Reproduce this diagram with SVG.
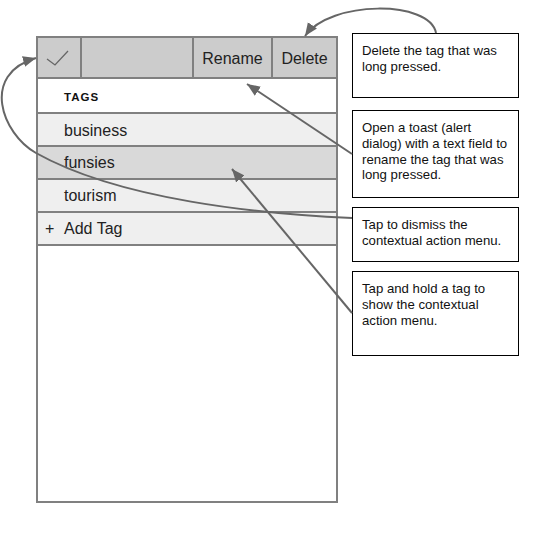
<svg xmlns="http://www.w3.org/2000/svg" width="557" height="540" viewBox="0 0 557 540">
<defs>
<marker id="arr" markerUnits="userSpaceOnUse" markerWidth="14" markerHeight="12" viewBox="0 0 14 12" refX="13" refY="6" orient="auto">
<path d="M0,0.5 L13,6 L0,11.5 Z" fill="#666"/>
</marker>
<style>
.frame{stroke:#808080;stroke-width:2}
.row{font-family:"Liberation Sans",Arial,sans-serif;font-size:16px;fill:#222}
.note{fill:#fff;stroke:#000;stroke-width:1}
.nt{font-family:"Liberation Sans",Arial,sans-serif;font-size:13.2px;fill:#111}
.conn{fill:none;stroke:#666;stroke-width:2}
</style>
</defs>
<rect width="557" height="540" fill="#fff"/>
<g id="phone">
<rect class="frame" x="37" y="37" width="300" height="465" fill="#fff"/>
</g>
<g id="toolbar">
<rect class="frame" x="37" y="37" width="44" height="41" fill="#ccc"/>
<rect class="frame" x="81" y="37" width="112" height="41" fill="#ccc"/>
<rect class="frame" x="193" y="37" width="79" height="41" fill="#ccc"/>
<rect class="frame" x="272" y="37" width="65" height="41" fill="#ccc"/>
<polyline points="47,59 55,65 68,51" fill="none" stroke="#666" stroke-width="1.3"/>
<text class="row" x="232.5" y="63.5" text-anchor="middle">Rename</text>
<text class="row" x="304.5" y="63.5" text-anchor="middle">Delete</text>
</g>
<g id="tags-header">
<text x="64" y="101" font-family="Liberation Sans,Arial,sans-serif" font-size="11.5" font-weight="bold" letter-spacing="1" fill="#111">TAGS</text>
</g>
<g id="row-business">
<rect class="frame" x="37" y="113" width="300" height="33" fill="#efefef"/>
<text class="row" x="64" y="135.5">business</text>
</g>
<g id="row-funsies">
<rect class="frame" x="37" y="146" width="300" height="33" fill="#d9d9d9"/>
<text class="row" x="64" y="168">funsies</text>
</g>
<g id="row-tourism">
<rect class="frame" x="37" y="179" width="300" height="33" fill="#efefef"/>
<text class="row" x="64" y="201">tourism</text>
</g>
<g id="row-addtag">
<rect class="frame" x="37" y="212" width="300" height="33" fill="#efefef"/>
<text class="row" x="45" y="234">+</text>
<text class="row" x="64" y="234">Add Tag</text>
</g>
<g id="note-delete">
<rect class="note" x="352.5" y="33.5" width="166" height="64"/>
<text class="nt" x="362" y="55">Delete the tag that was</text>
<text class="nt" x="362" y="70.8">long pressed.</text>
</g>
<g id="note-rename">
<rect class="note" x="352.5" y="110.5" width="166" height="87"/>
<text class="nt" x="362" y="132">Open a toast (alert</text>
<text class="nt" x="362" y="147.8">dialog) with a text field to</text>
<text class="nt" x="362" y="163.6">rename the tag that was</text>
<text class="nt" x="362" y="179.4">long pressed.</text>
</g>
<g id="note-dismiss">
<rect class="note" x="352.5" y="207.5" width="166" height="54"/>
<text class="nt" x="362" y="229">Tap to dismiss the</text>
<text class="nt" x="362" y="244.8">contextual action menu.</text>
</g>
<g id="note-hold">
<rect class="note" x="352.5" y="271.5" width="166" height="84"/>
<text class="nt" x="362" y="293">Tap and hold a tag to</text>
<text class="nt" x="362" y="308.8">show the contextual</text>
<text class="nt" x="362" y="324.6">action menu.</text>
</g>
<g id="connectors">
<path class="conn" d="M436,33 C430,0 330,0 305,36" marker-end="url(#arr)"/>
<path class="conn" d="M352,154 L247,84" marker-end="url(#arr)"/>
<path class="conn" d="M352,218 C260,214 120,200 36,153 C2,134 -20,74 36,58" marker-end="url(#arr)"/>
<path class="conn" d="M352,313 L232,169" marker-end="url(#arr)"/>
</g>
</svg>
